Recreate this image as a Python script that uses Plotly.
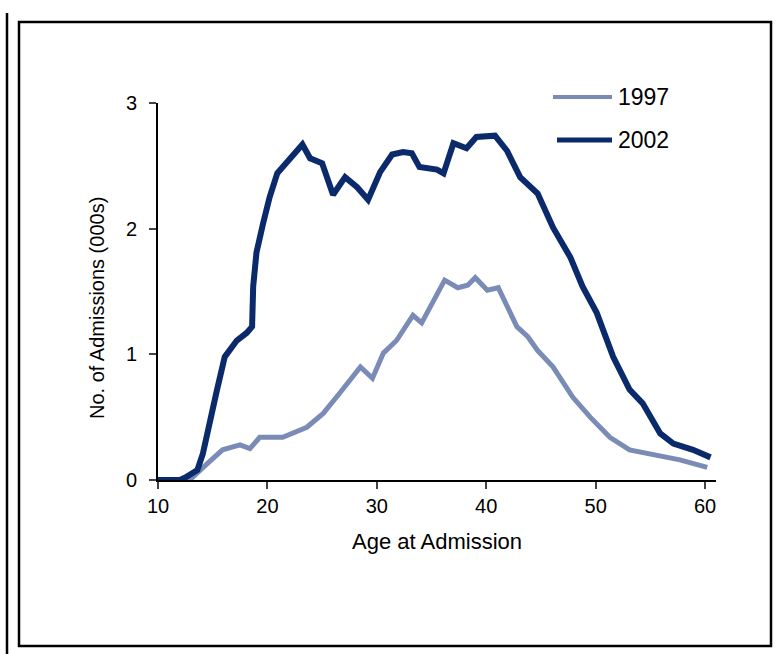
import plotly.graph_objects as go

# 2002 admissions (000s) by age
age_2002 = [10, 11, 12, 12.5, 13.4, 13.6, 14.1, 14.75, 15.4, 16.1, 17.2, 18.1, 18.6, 18.7, 19.0, 19.6,
            20.2, 20.9, 21.8, 22.5, 23.2, 23.9, 25.0, 26.0, 27.1, 28.2, 29.2, 30.3, 31.4, 32.4,
            33.2, 33.9, 35.5, 36.1, 37.0, 38.2, 39.1, 40.8, 41.9, 43.1, 44.7, 46.1, 47.7, 48.8,
            50.1, 51.6, 53.1, 54.3, 55.9, 57.1, 58.9, 60.5]
val_2002 = [0.0, 0.0, 0.0, 0.02, 0.07, 0.08, 0.21, 0.48, 0.72, 0.98, 1.11, 1.17, 1.22, 1.54, 1.81, 2.04,
            2.25, 2.44, 2.53, 2.60, 2.67, 2.56, 2.52, 2.27, 2.41, 2.33, 2.23, 2.45, 2.59, 2.61,
            2.60, 2.49, 2.47, 2.44, 2.68, 2.64, 2.73, 2.74, 2.62, 2.41, 2.28, 2.01, 1.77, 1.54,
            1.33, 0.98, 0.72, 0.61, 0.37, 0.29, 0.24, 0.18]

# 1997 admissions (000s) by age
age_1997 = [10, 11, 12, 12.9, 14.5, 15.9, 17.5, 18.4, 19.3, 21.4, 23.6, 25.1, 26.6, 28.5, 29.6, 30.6,
            31.8, 33.3, 34.1, 35.1, 36.2, 37.4, 38.3, 39.0, 40.1, 41.1, 41.9, 42.8, 43.8, 44.7,
            46.1, 47.9, 49.5, 51.3, 53.1, 55.2, 57.7, 60.2]
val_1997 = [0.0, 0.0, 0.0, 0.0, 0.13, 0.24, 0.28, 0.25, 0.34, 0.34, 0.42, 0.53, 0.69, 0.90, 0.81, 1.01,
            1.11, 1.31, 1.25, 1.41, 1.59, 1.53, 1.55, 1.61, 1.51, 1.53, 1.38, 1.22, 1.14, 1.03,
            0.90, 0.66, 0.50, 0.34, 0.24, 0.20, 0.16, 0.10]

x_ticks = [10, 20, 30, 40, 50, 60]
y_ticks = [0, 1, 2, 3]

DARK = "#0a2a6b"
LIGHT = "#7a8cb6"
FONT = "Liberation Sans, Arial, sans-serif"

W, H = 777, 654
L, R, T, B = 158, 61, 103, 174
pw, ph = W - L - R, H - T - B


def px(x):
    return (x - L) / pw


def py(y):
    return (H - B - y) / ph


fig = go.Figure()
fig.add_trace(go.Scatter(x=age_1997, y=val_1997, mode="lines", name="1997",
                         line=dict(color=LIGHT, width=5), showlegend=False))
fig.add_trace(go.Scatter(x=age_2002, y=val_2002, mode="lines", name="2002",
                         line=dict(color=DARK, width=6), showlegend=False))

shapes = [
    # outer frame
    dict(type="rect", xref="paper", yref="paper", x0=px(19), x1=px(771), y0=py(646), y1=py(22),
         line=dict(color="black", width=2.5), layer="below"),
    dict(type="line", xref="paper", yref="paper", x0=px(7), x1=px(7), y0=py(654), y1=py(13),
         line=dict(color="black", width=2.5)),
    # legend samples
    dict(type="line", xref="paper", yref="paper", x0=px(553), x1=px(612), y0=py(97), y1=py(97),
         line=dict(color=LIGHT, width=4)),
    dict(type="line", xref="paper", yref="paper", x0=px(557), x1=px(612), y0=py(140), y1=py(140),
         line=dict(color=DARK, width=5)),
]

annotations = [
    dict(xref="paper", yref="paper", x=px(616), y=py(97), text="1997", showarrow=False,
         xanchor="left", yanchor="middle", font=dict(family=FONT, size=23, color="black")),
    dict(xref="paper", yref="paper", x=px(616), y=py(140), text="2002", showarrow=False,
         xanchor="left", yanchor="middle", font=dict(family=FONT, size=23, color="black")),
    dict(xref="paper", yref="paper", x=px(437), y=py(541), text="Age at Admission", showarrow=False,
         xanchor="center", yanchor="middle", font=dict(family=FONT, size=22, color="black")),
    dict(xref="paper", yref="paper", x=px(97), y=py(308), text="No. of Admissions (000s)",
         showarrow=False, textangle=-90, xanchor="center", yanchor="middle",
         font=dict(family=FONT, size=20, color="black")),
]

fig.update_layout(
    width=W, height=H,
    margin=dict(l=L, r=R, t=T, b=B),
    paper_bgcolor="white", plot_bgcolor="white",
    shapes=shapes, annotations=annotations,
    font=dict(family=FONT, size=20, color="black"),
    xaxis=dict(range=[10, 61], tickvals=x_ticks, ticks="outside", ticklen=7, tickwidth=2,
               showline=True, linecolor="black", linewidth=2, showgrid=False, zeroline=False,
               tickfont=dict(size=20)),
    yaxis=dict(range=[0, 3], tickvals=y_ticks, ticks="outside", ticklen=7, tickwidth=2,
               showline=True, linecolor="black", linewidth=2, showgrid=False, zeroline=False,
               tickfont=dict(size=20), ticklabelstandoff=8),
)

fig.write_html("out.html")
